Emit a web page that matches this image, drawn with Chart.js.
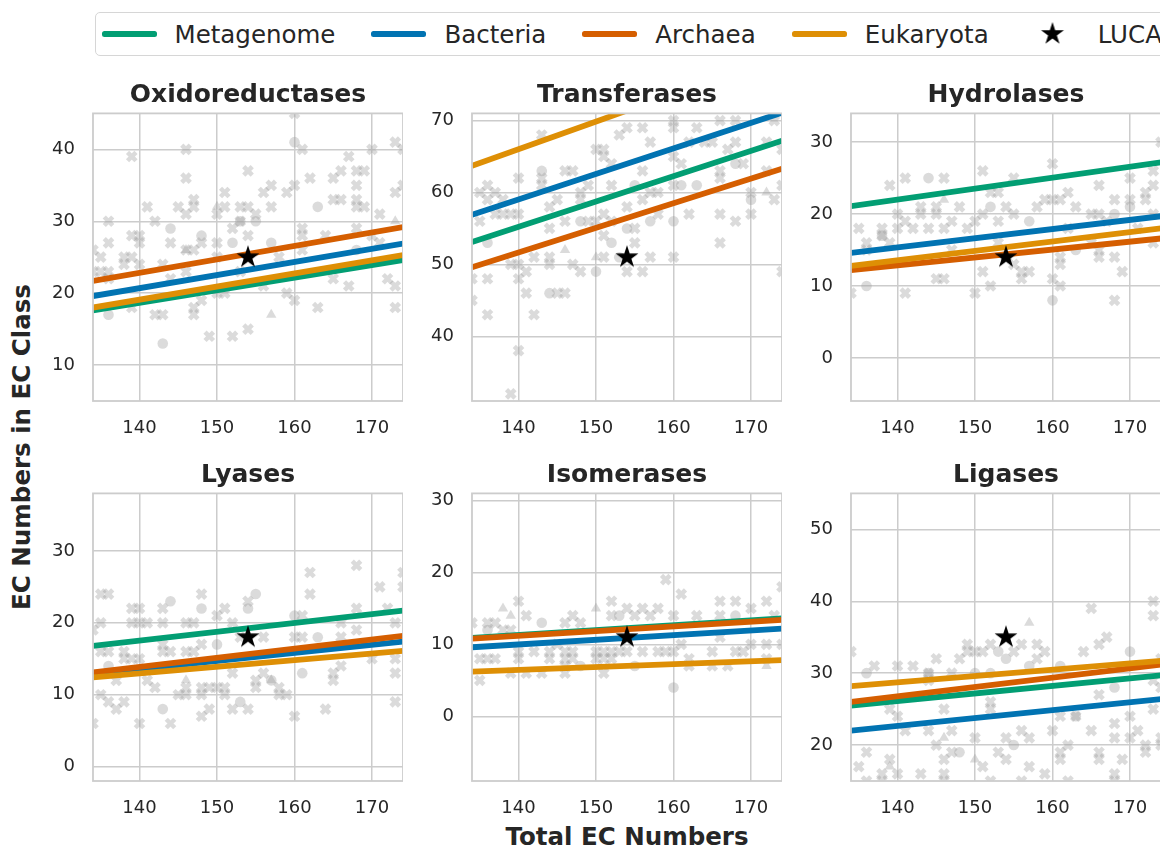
<!DOCTYPE html>
<html>
<head>
<meta charset="utf-8">
<script src="https://cdn.jsdelivr.net/npm/chart.js@4.4.1/dist/chart.umd.min.js"></script>
<style>
    html, body { margin: 0; padding: 0; background: #fff; }
    body { width: 1160px; height: 846px; position: relative; overflow: hidden; font-family: "DejaVu Sans", sans-serif; color: #262626; }
    canvas.panel { position: absolute; }
    #legend { position: absolute; left: 95px; top: 12px; width: 1100px; height: 44px; box-sizing: border-box; border: 1.3px solid #d6d6d6; border-radius: 5px; display: flex; align-items: center; padding-left: 5.5px; font-size: 24.5px; white-space: nowrap; }
    .swatch { width: 55px; height: 5.5px; border-radius: 2.5px; margin-right: 18px; flex: none; }
    .item-label { margin-right: 36px; }
    .panel-title { position: absolute; font-weight: bold; font-size: 25px; line-height: 25px; white-space: nowrap; transform: translate(-50%, -50%); }
    .axis-label { position: absolute; font-weight: bold; font-size: 24.5px; line-height: 24.5px; white-space: nowrap; }
    #x-label { left: 627px; top: 837px; transform: translate(-50%, -50%); }
    #y-label { left: 22px; top: 447px; transform: translate(-50%, -50%) rotate(-90deg); }
</style>
</head>
<body>
<div id="legend"></div>
<div id="y-label" class="axis-label">EC Numbers in EC Class</div>
<div id="x-label" class="axis-label">Total EC Numbers</div>
<script>
// DATA

const panelTitles = ["Oxidoreductases", "Transferases", "Hydrolases", "Lyases", "Isomerases", "Ligases"];
const seriesNames = ["Metagenome", "Bacteria", "Archaea", "Eukaryota"];
const seriesColors = ["#029e73", "#0173b2", "#d55e00", "#de8f05"];

const xMin = 134;
const xMax = 174;
const xTicks = [140, 150, 160, 170];
const yMins = [5, 31, -6, -2, -9, 15];
const yMaxs = [45, 71, 34, 38, 31, 55];
const yTicks = [[10, 20, 30, 40], [40, 50, 60, 70], [0, 10, 20, 30], [0, 10, 20, 30], [0, 10, 20, 30], [20, 30, 40, 50]];

// regression lines, value at xMin and at xMax for each panel
const lineX = [134, 174];
const metagenomeStart = [17.6, 53.1, 21.1, 16.8, 10.9, 25.5];
const metagenomeEnd = [24.6, 67.2, 27.2, 21.7, 13.6, 29.7];
const bacteriaStart = [19.6, 56.9, 14.6, 12.9, 9.6, 22.0];
const bacteriaEnd = [26.9, 71.1, 19.7, 17.4, 12.2, 26.4];
const archaeaStart = [21.7, 49.6, 12.2, 13.1, 10.8, 26.0];
const archaeaEnd = [29.2, 63.3, 16.6, 18.2, 13.4, 31.2];
const eukaryotaStart = [18.0, 63.7, 12.8, 12.4, 6.2, 28.2];
const eukaryotaEnd = [25.3, 79.1, 18.0, 16.1, 7.8, 31.7];

const lucaX = 154;
const lucaY = [25, 51, 14, 18, 11, 35];

const oxidoCross = [[136,30],[136,27],[135,25],[134,26],[135,23],[136,23],[136,22],[134,23],[139,39],[139,28],[140,28],[140,27],[138,25],[138,24],[139,25],[140,24],[139,18],[141,32],[142,30],[142,17],[143,17],[143,24],[144,27],[144,22],[145,32],[146,40],[146,36],[146,31],[147,33],[147,32],[146,26],[147,26],[146,23],[147,18],[147,17],[148,27],[148,19],[149,14],[150,31],[150,27],[151,34],[151,32],[150,25],[152,29],[152,14],[153,32],[153,30],[154,37],[154,32],[154,28],[154,15],[155,31],[156,34],[157,35],[157,32],[158,25],[159,34],[159,20],[160,19],[160,35],[161,40],[161,29],[161,28],[161,26],[162,36],[163,18],[164,28],[165,36],[165,33],[165,22],[166,37],[166,33],[167,39],[167,21],[168,37],[168,35],[168,33],[168,32],[168,29],[169,37],[169,32],[170,40],[171,31],[172,22],[173,41],[173,34],[173,21],[173,18],[174,40],[174,35],[160,45],[150,20],[151,20],[156,21],[153,23],[170,28],[171,27]];
const oxidoCircle = [[136,17],[143,13],[144,29],[148,28],[152,27],[153,30],[155,30],[157,27],[160,41],[163,32],[168,26]];
const oxidoTriangle = [[150,32],[146,26],[157,17],[173,30]];

const transCross = [[134,48],[134,45],[135,56],[135,60],[136,61],[136,59],[136,48],[136,43],[137,60],[137,57],[138,57],[139,57],[140,57],[138,59],[139,50],[140,50],[139,32],[140,62],[140,48],[140,38],[141,49],[141,46],[142,51],[142,43],[143,68],[143,62],[143,61],[144,58],[144,55],[144,51],[144,50],[145,59],[145,46],[146,46],[146,63],[146,56],[147,63],[147,50],[148,60],[148,59],[148,49],[149,61],[149,56],[150,66],[150,56],[151,66],[151,65],[151,57],[151,54],[151,51],[152,64],[152,61],[152,56],[153,68],[154,69],[154,58],[154,49],[155,55],[155,53],[156,69],[156,63],[156,59],[156,49],[157,67],[157,60],[157,51],[158,60],[158,57],[160,70],[160,69],[160,65],[160,61],[160,51],[161,64],[162,67],[162,57],[163,69],[164,67],[165,67],[166,70],[166,63],[166,62],[166,57],[166,53],[167,66],[168,70],[168,67],[168,56],[169,64],[170,60],[170,57],[172,67],[172,63],[173,70],[173,59],[174,66],[174,61],[174,49]];
const transCircle = [[136,53],[143,63],[144,46],[148,56],[150,49],[152,53],[154,55],[155,61],[157,56],[160,56],[161,61],[163,61],[168,64],[170,59],[153,51]];
const transTriangle = [[146,52],[150,51],[172,60]];

const hydroCross = [[134,9],[135,18],[136,16],[136,15],[138,18],[138,17],[139,24],[139,16],[140,20],[140,18],[141,25],[141,9],[141,19],[142,18],[143,21],[143,20],[144,18],[145,21],[145,20],[145,11],[146,11],[146,25],[146,18],[147,19],[148,21],[149,18],[150,19],[150,9],[151,26],[151,20],[151,12],[152,23],[152,10],[153,23],[153,19],[154,21],[155,25],[155,20],[156,12],[156,11],[157,12],[158,21],[159,22],[160,27],[160,22],[160,11],[161,22],[161,14],[161,13],[161,10],[162,23],[163,21],[165,20],[166,24],[166,20],[166,15],[166,14],[167,19],[168,22],[168,14],[168,8],[169,12],[170,25],[170,22],[171,18],[172,23],[172,22],[173,26],[173,24],[173,20],[174,30],[153,16],[154,14],[155,13],[147,15],[162,18],[165,16],[173,16]];
const hydroCircle = [[136,10],[144,25],[152,21],[157,19],[160,8],[163,15],[168,20],[170,21],[138,17]];
const hydroTriangle = [[146,22]];

const lyasesCross = [[134,19],[134,6],[135,24],[136,24],[135,20],[135,16],[136,16],[135,10],[136,9],[137,8],[137,12],[138,16],[138,15],[138,9],[139,22],[140,22],[139,20],[140,20],[139,15],[140,15],[140,6],[141,20],[141,12],[142,11],[143,22],[143,20],[143,17],[143,16],[144,16],[144,6],[145,10],[146,20],[147,20],[146,16],[147,16],[146,11],[146,10],[148,24],[148,17],[148,11],[148,10],[148,7],[149,11],[149,8],[150,21],[150,11],[151,22],[151,11],[151,10],[152,20],[152,13],[152,8],[153,18],[154,23],[154,8],[155,12],[155,11],[156,18],[156,13],[158,11],[158,10],[159,10],[160,18],[160,7],[161,21],[161,18],[162,27],[162,24],[164,8],[165,13],[165,12],[166,18],[166,20],[166,14],[168,28],[168,22],[168,19],[170,15],[171,25],[172,22],[173,15],[173,13],[173,9],[174,27],[174,25],[173,20]];
const lyasesCircle = [[136,14],[143,8],[144,23],[148,22],[150,17],[153,9],[154,22],[155,24],[157,12],[160,21],[161,13],[163,18]];
const lyasesTriangle = [[146,12],[157,12]];

const isoCross = [[134,13],[135,5],[135,8],[136,13],[137,13],[136,8],[137,8],[138,12],[139,12],[139,6],[140,16],[140,9],[140,8],[141,14],[141,6],[142,9],[143,6],[144,9],[144,8],[145,10],[146,13],[146,9],[146,8],[146,7],[146,6],[147,14],[147,9],[147,8],[148,13],[150,9],[150,8],[151,9],[151,8],[151,6],[152,16],[152,14],[152,9],[152,8],[153,9],[154,15],[154,9],[155,14],[156,15],[156,9],[157,14],[158,15],[158,9],[159,19],[159,9],[160,14],[160,9],[161,17],[161,10],[162,8],[162,7],[163,14],[165,9],[165,7],[166,16],[166,14],[166,11],[167,7],[168,16],[168,9],[169,9],[170,15],[170,10],[172,16],[172,10],[172,8],[173,14],[174,18],[174,10]];
const isoCircle = [[136,12],[143,13],[148,7],[153,14],[155,7],[160,4],[168,14]];
const isoTriangle = [[138,15],[139,14],[150,15],[172,7]];

const ligCross = [[134,33],[135,17],[136,19],[137,31],[138,16],[139,25],[139,18],[140,31],[140,24],[140,16],[141,22],[142,31],[143,16],[144,30],[144,29],[144,22],[145,32],[145,20],[146,25],[146,18],[146,16],[147,30],[147,22],[147,19],[148,32],[149,34],[149,33],[150,33],[150,21],[151,33],[151,17],[152,34],[152,26],[152,25],[153,19],[154,21],[154,18],[155,33],[156,34],[156,22],[157,21],[157,17],[158,34],[158,32],[159,33],[159,16],[160,22],[161,19],[161,18],[161,24],[162,20],[163,24],[164,33],[165,39],[165,22],[166,34],[166,27],[166,19],[166,18],[167,35],[168,23],[168,21],[168,16],[169,18],[170,24],[170,21],[171,22],[172,20],[172,19],[173,25],[173,29],[173,40],[173,38],[174,21],[174,20],[174,32],[174,28],[136,15],[138,15],[146,15],[152,15],[156,15],[162,15],[168,15]];
const ligCircle = [[136,30],[144,30],[148,19],[150,30],[152,30],[153,33],[154,32],[155,20],[157,31],[161,31],[163,24],[168,28],[170,33]];
const ligTriangle = [[146,21],[150,18],[157,37],[139,17]];

const crossSets = [oxidoCross, transCross, hydroCross, lyasesCross, isoCross, ligCross];
const circleSets = [oxidoCircle, transCircle, hydroCircle, lyasesCircle, isoCircle, ligCircle];
const triangleSets = [oxidoTriangle, transTriangle, hydroTriangle, lyasesTriangle, isoTriangle, ligTriangle];


// STYLE

const textColor = "#262626";
const gridColor = "#cccccc";
const pointColor = "rgba(160, 160, 160, 0.38)";
const columnLefts = [23, 402, 781];
const rowTops = [79, 459];
const yAxisWidth = 70;
const plotWidth = 310;
const titleSpace = 34.4;

Chart.defaults.font.family = "'DejaVu Sans', sans-serif";
Chart.defaults.color = textColor;


const makeStar = (radius) => {
    const size = Math.ceil(radius * 2 + 2);
    const star = document.createElement("canvas");
    star.width = size;
    star.height = size;
    const ctx = star.getContext("2d");
    ctx.beginPath();
    for (let i = 0; i < 10; i++) {
        const r = i % 2 === 0 ? radius : radius * 0.381966;
        const a = -Math.PI / 2 + i * Math.PI / 5;
        ctx.lineTo(size / 2 + r * Math.cos(a), size / 2 + r * Math.sin(a));
    }
    ctx.closePath();
    ctx.fillStyle = "#000";
    ctx.fill();
    return star;
}

const starImage = makeStar(12);


// draws the four spines on top of the plot
const framePlugin = {
    id: "frame",
    afterDraw: (chart) => {
        const {ctx, chartArea} = chart;
        ctx.save();
        ctx.strokeStyle = gridColor;
        ctx.lineWidth = 1.8;
        ctx.strokeRect(chartArea.left, chartArea.top, chartArea.right - chartArea.left, chartArea.bottom - chartArea.top);
        ctx.restore();
    }
};


// keeps the tick labels from eating into the plot area
const noPadding = (scale) => {
    scale.paddingLeft = 0;
    scale.paddingRight = 0;
    scale.paddingTop = 0;
    scale.paddingBottom = 0;
}


const toPoints = (pairs) => pairs.map(([x, y]) => ({x, y}));


const scatterSet = (pairs, style, radius, order) => ({
    data: toPoints(pairs),
    pointStyle: style,
    pointRadius: radius,
    pointBackgroundColor: pointColor,
    pointBorderColor: pointColor,
    pointBorderWidth: style === "crossRot" ? 4.5 : 0,
    showLine: false,
    clip: 0,
    order: order,
});


const lineSet = (index, start, end, order) => ({
    data: [{x: lineX[0], y: start}, {x: lineX[1], y: end}],
    showLine: true,
    borderColor: seriesColors[index],
    borderWidth: 5.8,
    borderCapStyle: "butt",
    pointRadius: 0,
    clip: 0,
    order: order,
});


const renderPanel = (i) => {
    const left = columnLefts[i % 3];
    const top = rowTops[Math.floor(i / 3)];

    const canvas = document.createElement("canvas");
    canvas.className = "panel";
    canvas.width = yAxisWidth + plotWidth;
    canvas.height = 362;
    canvas.style.left = left + "px";
    canvas.style.top = top + "px";
    document.body.append(canvas);

    const title = document.createElement("div");
    title.className = "panel-title";
    title.innerText = panelTitles[i];
    title.style.left = (left + yAxisWidth + plotWidth / 2) + "px";
    title.style.top = (top + 13.9) + "px";
    document.body.append(title);

    const datasets = [
        scatterSet(crossSets[i], "crossRot", 6, 9),
        scatterSet(circleSets[i], "circle", 5.3, 8),
        scatterSet(triangleSets[i], "triangle", 6, 7),
        lineSet(0, metagenomeStart[i], metagenomeEnd[i], 5),
        lineSet(1, bacteriaStart[i], bacteriaEnd[i], 4),
        lineSet(2, archaeaStart[i], archaeaEnd[i], 3),
        lineSet(3, eukaryotaStart[i], eukaryotaEnd[i], 2),
        {
            data: [{x: lucaX, y: lucaY[i]}],
            pointStyle: starImage,
            pointRadius: 12,
            showLine: false,
            clip: 0,
            order: 1,
        },
    ];

    new Chart(canvas, {
        type: "scatter",
        data: {datasets},
        options: {
            responsive: false,
            animation: false,
            devicePixelRatio: 1,
            events: [],
            layout: {padding: {top: titleSpace, left: 0, right: 0, bottom: 0}, autoPadding: false},
            plugins: {
                legend: {display: false},
                tooltip: {enabled: false},
            },
            scales: {
                x: {
                    type: "linear",
                    min: xMin,
                    max: xMax,
                    afterBuildTicks: (scale) => { scale.ticks = xTicks.map(v => ({value: v})); },
                    afterFit: (scale) => { scale.height = 40; noPadding(scale); },
                    grid: {color: gridColor, lineWidth: 1.5, drawTicks: false},
                    border: {display: false},
                    ticks: {color: textColor, font: {size: 18}, padding: 17, maxRotation: 0},
                },
                y: {
                    type: "linear",
                    min: yMins[i],
                    max: yMaxs[i],
                    afterBuildTicks: (scale) => { scale.ticks = yTicks[i].map(v => ({value: v})); },
                    afterFit: (scale) => { scale.width = yAxisWidth; noPadding(scale); },
                    grid: {color: gridColor, lineWidth: 1.5, drawTicks: false},
                    border: {display: false},
                    ticks: {color: textColor, font: {size: 18}, padding: 18},
                },
            },
        },
        plugins: [framePlugin],
    });
}


const renderLegend = () => {
    const legend = document.querySelector("#legend");

    seriesNames.forEach((name, i) => {
        const swatch = document.createElement("div");
        swatch.className = "swatch";
        swatch.style.background = seriesColors[i];
        const label = document.createElement("span");
        label.className = "item-label";
        label.innerText = name;
        legend.append(swatch, label);
    });

    const starSlot = document.createElement("canvas");
    starSlot.className = "swatch";
    starSlot.width = 55;
    starSlot.height = 26;
    starSlot.style.height = "26px";
    starSlot.style.borderRadius = "0";
    starSlot.getContext("2d").drawImage(starImage, (55 - starImage.width) / 2, 0);
    const lucaLabel = document.createElement("span");
    lucaLabel.className = "item-label";
    lucaLabel.innerText = "LUCA";
    legend.append(starSlot, lucaLabel);
}


// MAIN PROCESS

panelTitles.forEach((_, i) => renderPanel(i));
renderLegend();
</script>
</body>
</html>
